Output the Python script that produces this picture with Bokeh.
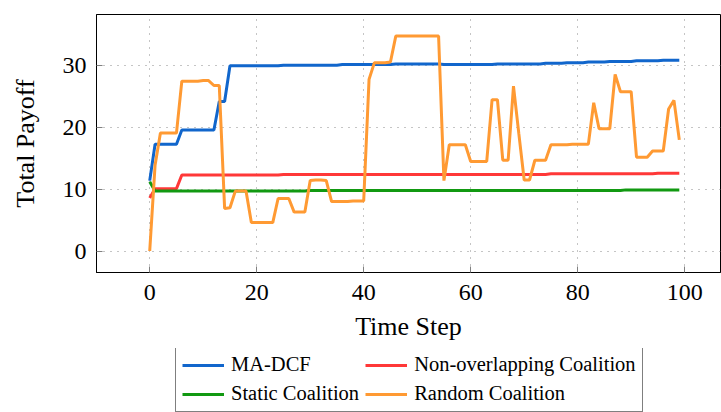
from bokeh.plotting import figure
from bokeh.models import Legend, LegendItem, FixedTicker, Range1d
from bokeh.layouts import column
from bokeh.embed import file_html
from bokeh.resources import INLINE

time_step = list(range(100))

ma_dcf = [11.4, 17.3, 17.3, 17.3, 17.3, 17.3, 19.6, 19.6, 19.6, 19.6,
          19.6, 19.6, 19.6, 24.2, 24.2, 30.0, 30.0, 30.0, 30.0, 30.0,
          30.0, 30.0, 30.0, 30.0, 30.0, 30.1, 30.1, 30.1, 30.1, 30.1,
          30.1, 30.1, 30.1, 30.1, 30.1, 30.1, 30.2, 30.2, 30.2, 30.2,
          30.2, 30.2, 30.2, 30.2, 30.2, 30.2, 30.3, 30.3, 30.3, 30.3,
          30.3, 30.3, 30.3, 30.3, 30.3, 30.2, 30.2, 30.2, 30.2, 30.2,
          30.2, 30.2, 30.2, 30.2, 30.2, 30.3, 30.3, 30.3, 30.3, 30.3,
          30.3, 30.3, 30.3, 30.3, 30.4, 30.4, 30.4, 30.4, 30.5, 30.5,
          30.5, 30.5, 30.6, 30.6, 30.6, 30.6, 30.7, 30.7, 30.7, 30.7,
          30.7, 30.8, 30.8, 30.8, 30.8, 30.8, 30.9, 30.9, 30.9, 30.9]

non_overlapping = [8.6, 10.1, 10.1, 10.1, 10.1, 10.1, 12.3, 12.3, 12.3, 12.3,
                   12.3, 12.3, 12.3, 12.3, 12.3, 12.3, 12.3, 12.3, 12.3, 12.3,
                   12.3, 12.3, 12.3, 12.3, 12.3, 12.4, 12.4, 12.4, 12.4, 12.4,
                   12.4, 12.4, 12.4, 12.4, 12.4, 12.4, 12.4, 12.4, 12.4, 12.4,
                   12.4, 12.4, 12.4, 12.4, 12.4, 12.4, 12.4, 12.4, 12.4, 12.4,
                   12.4, 12.4, 12.4, 12.4, 12.4, 12.4, 12.4, 12.4, 12.4, 12.4,
                   12.4, 12.4, 12.4, 12.4, 12.4, 12.4, 12.4, 12.4, 12.4, 12.4,
                   12.4, 12.4, 12.4, 12.4, 12.4, 12.5, 12.5, 12.5, 12.5, 12.5,
                   12.5, 12.5, 12.5, 12.5, 12.5, 12.5, 12.5, 12.5, 12.5, 12.5,
                   12.5, 12.5, 12.5, 12.5, 12.5, 12.6, 12.6, 12.6, 12.6, 12.6]

static_coalition = [11.2, 9.7, 9.7, 9.7, 9.7, 9.7, 9.7, 9.7, 9.7, 9.7,
                    9.7, 9.7, 9.7, 9.7, 9.7, 9.7, 9.7, 9.7, 9.7, 9.7,
                    9.7, 9.7, 9.7, 9.7, 9.7, 9.7, 9.7, 9.7, 9.7, 9.7,
                    9.8, 9.8, 9.8, 9.8, 9.8, 9.8, 9.8, 9.8, 9.8, 9.8,
                    9.8, 9.8, 9.8, 9.8, 9.8, 9.8, 9.8, 9.8, 9.8, 9.8,
                    9.8, 9.8, 9.8, 9.8, 9.8, 9.8, 9.8, 9.8, 9.8, 9.8,
                    9.8, 9.8, 9.8, 9.8, 9.8, 9.8, 9.8, 9.8, 9.8, 9.8,
                    9.8, 9.8, 9.8, 9.8, 9.8, 9.8, 9.8, 9.8, 9.8, 9.8,
                    9.8, 9.8, 9.8, 9.8, 9.8, 9.8, 9.8, 9.8, 9.8, 9.9,
                    9.9, 9.9, 9.9, 9.9, 9.9, 9.9, 9.9, 9.9, 9.9, 9.9]

random_coalition = [0.0, 13.9, 19.1, 19.1, 19.1, 19.1, 27.5, 27.5, 27.5, 27.5,
                    27.6, 27.6, 26.8, 26.8, 6.9, 7.0, 9.7, 9.7, 9.7, 4.6,
                    4.6, 4.6, 4.6, 4.6, 8.5, 8.5, 8.5, 6.3, 6.3, 6.3,
                    11.4, 11.5, 11.5, 11.4, 8.0, 8.0, 8.0, 8.0, 8.1, 8.1,
                    8.1, 27.8, 30.5, 30.5, 30.5, 30.6, 34.8, 34.8, 34.8, 34.8,
                    34.8, 34.8, 34.8, 34.8, 34.8, 11.4, 17.2, 17.2, 17.2, 17.2,
                    14.5, 14.5, 14.5, 14.5, 24.5, 24.5, 14.7, 14.7, 26.7, 19.0,
                    11.5, 11.5, 14.7, 14.7, 14.7, 17.2, 17.2, 17.2, 17.2, 17.3,
                    17.3, 17.3, 17.3, 24.0, 19.8, 19.8, 19.8, 28.6, 25.8, 25.8,
                    25.8, 15.2, 15.2, 15.2, 16.2, 16.2, 16.2, 23.0, 24.4, 18.0]

x_ticks = [0, 20, 40, 60, 80, 100]
y_ticks = [0, 10, 20, 30]

series_names = ["MA-DCF", "Non-overlapping Coalition", "Static Coalition", "Random Coalition"]
series_colors = ["#1166cc", "#ff3838", "#119911", "#ff9a33"]
series_values = [ma_dcf, non_overlapping, static_coalition, random_coalition]

FONT = "Liberation Serif"

p = figure(frame_width=624, frame_height=258,
           x_range=Range1d(-9.95, 106.7), y_range=Range1d(-3.48, 38.3),
           output_backend="svg", toolbar_location=None,
           min_border_left=96, min_border_right=1, min_border_top=14,
           min_border_bottom=76)

for ys, c in zip(series_values, series_colors):
    p.line(time_step, ys, line_color=c, line_width=3)

p.outline_line_color = "black"
p.outline_line_width = 1

for ax, ticks in ((p.xaxis, x_ticks), (p.yaxis, y_ticks)):
    ax.ticker = FixedTicker(ticks=ticks)
    ax.minor_tick_line_color = None
    ax.major_tick_in = 6
    ax.major_tick_out = 0
    ax.major_tick_line_color = "#808080"
    ax.axis_line_color = "black"
    ax.major_label_text_font = FONT
    ax.major_label_text_font_size = "24px"
    ax.major_label_text_color = "black"
    ax.axis_label_text_font = FONT
    ax.axis_label_text_font_size = "26px"
    ax.axis_label_text_font_style = "normal"
    ax.axis_label_text_color = "black"

p.xaxis.axis_label = "Time Step"
p.yaxis.axis_label = "Total Payoff"
p.xaxis.major_label_standoff = 12
p.xaxis.axis_label_standoff = 9
p.yaxis.major_label_standoff = 10
p.yaxis.axis_label_standoff = 20

for g in (p.xgrid, p.ygrid):
    g.grid_line_color = "#8a8a8a"
    g.grid_line_dash = "1 6"
    g.grid_line_width = 1
p.xgrid.ticker = FixedTicker(ticks=x_ticks)
p.ygrid.ticker = FixedTicker(ticks=y_ticks)

# legend panel below the chart (its lines lie outside its ranges; only the key shows)
pl = figure(frame_width=624, height=64, x_range=Range1d(-300, -200), y_range=Range1d(-300, -200),
            output_backend="svg", toolbar_location=None, min_border=0,
            min_border_left=96, min_border_right=1)
pl.axis.visible = False
pl.grid.visible = False
pl.outline_line_color = None
legend_renderers = [pl.line(time_step, ys, line_color=c, line_width=3)
                    for ys, c in zip(series_values, series_colors)]

items = [LegendItem(label=n, renderers=[r]) for n, r in zip(series_names, legend_renderers)]
legend = Legend(items=items, orientation="horizontal", ncols=2,
                location=(79, 0), label_text_font=FONT, label_text_font_size="20.5px",
                label_text_color="black", glyph_width=42, glyph_height=20,
                label_height=20, label_standoff=7, spacing=6, padding=6, margin=0,
                border_line_color="black", border_line_width=1,
                background_fill_alpha=1.0)
pl.add_layout(legend, "center")

layout = column(p, pl, spacing=0)
open("out.html", "w").write(file_html(layout, INLINE))
